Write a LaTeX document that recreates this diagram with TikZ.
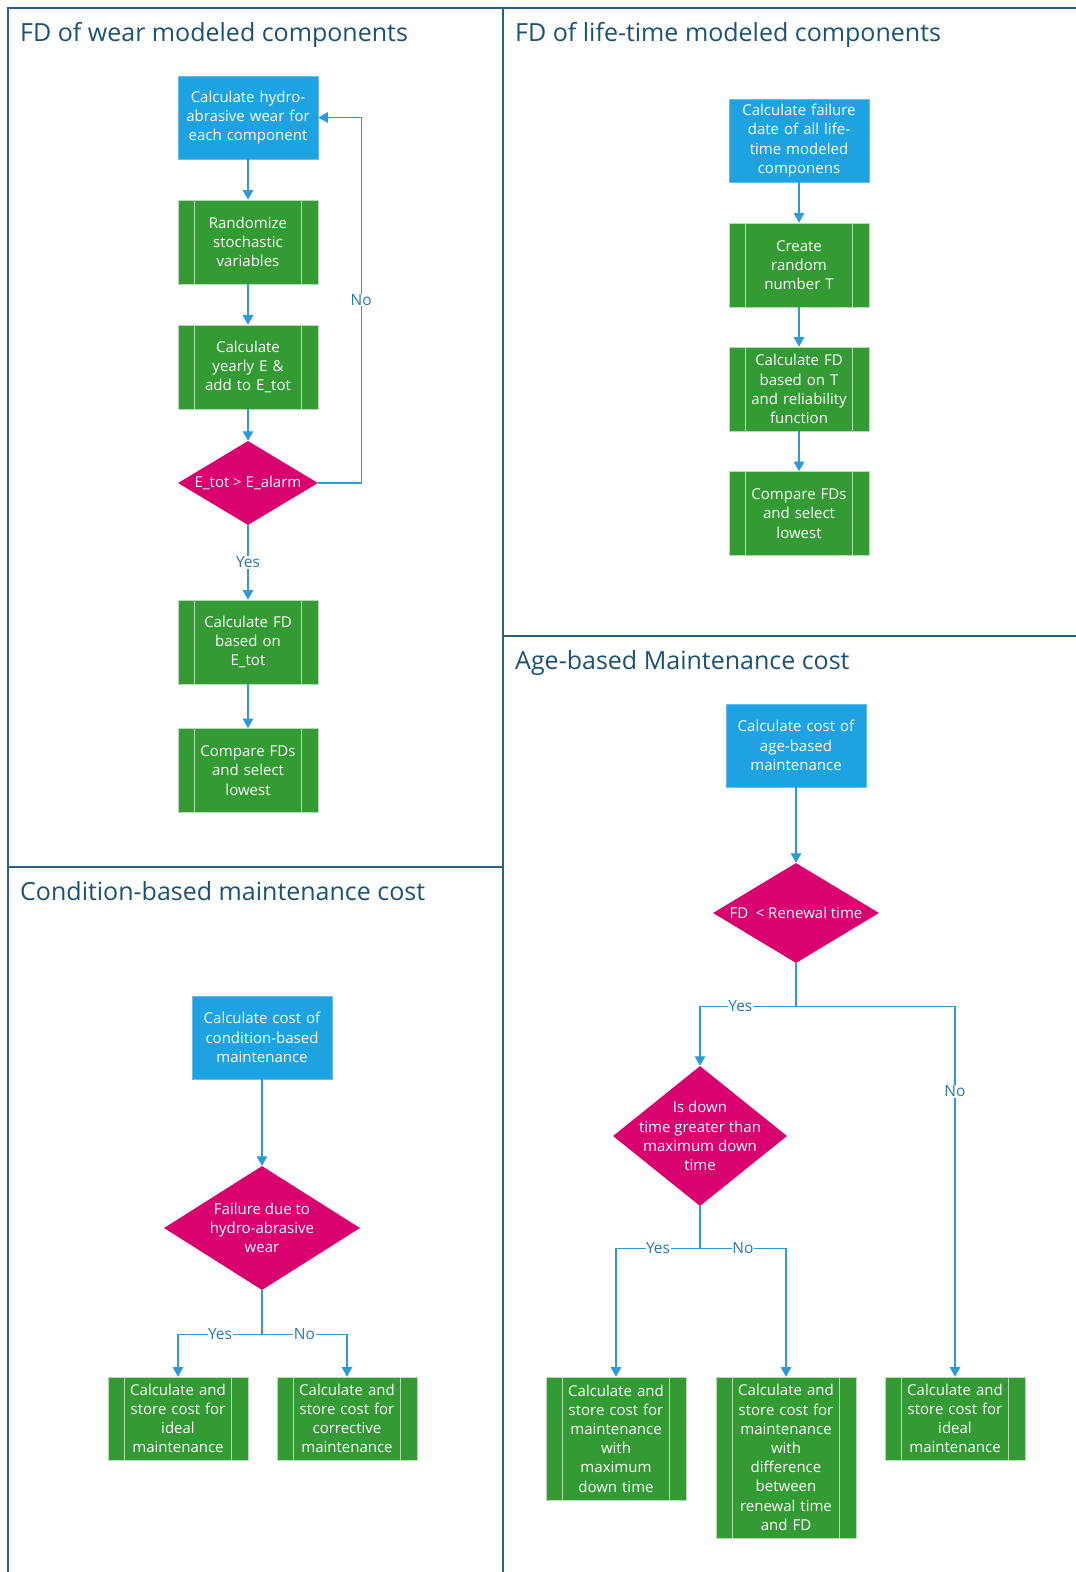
\documentclass[tikz,border=0pt]{standalone}
\usepackage{fontspec}
\setmainfont{Open Sans}
\usetikzlibrary{shapes.geometric,arrows.meta,calc}
\definecolor{cframe}{HTML}{2B6284}
\definecolor{ctitle}{HTML}{1B5273}
\definecolor{cblue}{HTML}{1FA2E1}
\definecolor{cgreen}{HTML}{349A34}
\definecolor{cgline}{HTML}{B5DDB5}
\definecolor{cmag}{HTML}{D9006F}
\definecolor{cline}{HTML}{2C9AD8}
\definecolor{clabel}{HTML}{2A78B2}
\newcommand\boxfnt{\fontsize{15pt}{19.2pt}\selectfont}
\newcommand\titlefnt{\fontsize{25pt}{30pt}\selectfont}
\tikzset{
  frame/.style={draw=cframe, line width=1.6pt},
  paneltitle/.style={anchor=base west, inner sep=0pt, text=ctitle, font=\titlefnt},
  blk/.style={rectangle, fill=cblue, draw=cblue!70!white, line width=0.6pt, text=white,
    minimum width=140pt, minimum height=83pt, inner sep=0pt, text width=136pt,
    align=center, font=\boxfnt},
  proc/.style={rectangle, fill=cgreen, draw=cgline, line width=0.7pt, text=white,
    minimum width=140pt, minimum height=84pt, inner sep=0pt, text width=106pt,
    align=center, font=\boxfnt,
    path picture={
      \draw[cgline, line width=0.9pt]
        ([xshift=16.5pt]path picture bounding box.north west) --
        ([xshift=16.5pt]path picture bounding box.south west)
        ([xshift=-16.5pt]path picture bounding box.north east) --
        ([xshift=-16.5pt]path picture bounding box.south east);}},
  dia/.style={diamond, fill=cmag, draw=none, inner sep=0pt},
  dtext/.style={text=white, font=\boxfnt, align=center, inner sep=0pt},
  arr/.style={draw=cline, line width=1.1pt, -{Triangle[width=10.5pt,length=9.5pt]}},
  lbl/.style={fill=white, text=clabel, font=\fontsize{15.5pt}{18pt}\selectfont, inner sep=0.5pt},
}
\begin{document}
\begin{tikzpicture}[x=1pt,y=-1pt]
\useasboundingbox (0,0) rectangle (1076,1572);

% panel frames
\draw[frame] (8,1580) -- (8,8) -- (1084,8);
\draw[frame] (503,8) -- (503,1580);
\draw[frame] (8,867) -- (503,867);
\draw[frame] (503,636) -- (1084,636);

% panel titles
\node[paneltitle] (t1) at (20,41) {FD of wear modeled components};
\node[paneltitle] (t2) at (515,41) {FD of life-time modeled components};
\node[paneltitle] (t3) at (515,669) {Age-based Maintenance cost};
\node[paneltitle] (t4) at (20,900) {Condition-based maintenance cost};

% ---- FD of wear modeled components
\node[blk]  (w1) at (248,117.5) {Calculate hydro-\\abrasive wear for\\each component};
\node[proc] (w2) at (248,242) {Randomize\\stochastic\\variables};
\node[proc] (w3) at (248,367) {Calculate\\yearly E \&\\add to E\_tot};
\node[dia, minimum width=140pt, minimum height=84pt,
      label={[dtext]center:E\_tot > E\_alarm}] (w4) at (248,483) {};
\node[proc] (w5) at (248,642) {Calculate FD\\based on\\E\_tot};
\node[proc] (w6) at (248,770.5) {Compare FDs\\and select\\lowest};

\draw[arr] (w1) -- (w2);
\draw[arr] (w2) -- (w3);
\draw[arr] (w3) -- (w4);
\draw[arr] (w4) -- node[lbl]{Yes} (w5);
\draw[arr] (w5) -- (w6);
\draw[arr] (w4.east) -- ++(43,0) |- node[lbl,pos=0.25]{No} (w1.east);

% ---- FD of life-time modeled components
\node[blk]  (l1) at (799,140.5) {Calculate failure\\date of all life-\\time modeled\\componens};
\node[proc] (l2) at (799,265) {Create\\random\\number T};
\node[proc] (l3) at (799,389) {Calculate FD\\based on T\\and reliability\\function};
\node[proc] (l4) at (799,513.5) {Compare FDs\\and select\\lowest};

\draw[arr] (l1) -- (l2);
\draw[arr] (l2) -- (l3);
\draw[arr] (l3) -- (l4);

% ---- Age-based maintenance cost
\node[blk]  (a1) at (796,745.5) {Calculate cost of\\age-based\\maintenance};
\node[dia, minimum width=166pt, minimum height=100pt,
      label={[dtext]center:FD\enspace< Renewal time}] (a2) at (796,913) {};
\node[dia, minimum width=174pt, minimum height=140pt,
      label={[dtext]center:{Is down\\time greater than\\maximum down\\time}}] (a3) at (700,1136) {};
\node[proc, minimum height=123pt] (a4) at (616,1438.5)
  {Calculate and\\store cost for\\maintenance\\with\\maximum\\down time};
\node[proc, minimum height=161pt] (a5) at (786,1457.5)
  {Calculate and\\store cost for\\maintenance\\with\\difference\\between\\renewal time\\and FD};
\node[proc, minimum height=83pt] (a6) at (955,1418.5)
  {Calculate and\\store cost for\\ideal\\maintenance};

\draw[arr] (a1) -- (a2);
\draw[draw=cline, line width=1.1pt] (a2.south) -- ++(0,43) coordinate (aj1);
\draw[arr] (aj1) -| node[lbl,pos=0.29]{Yes} (a3.north);
\draw[arr] (aj1) -| node[lbl,pos=0.615]{No} (a6.north);
\draw[draw=cline, line width=1.1pt] (a3.south) -- ++(0,42) coordinate (aj2);
\draw[arr] (aj2) -| node[lbl,pos=0.25]{Yes} (a4.north);
\draw[arr] (aj2) -| node[lbl,pos=0.25]{No} (a5.north);

% ---- Condition-based maintenance cost
\node[blk]  (c1) at (262,1037.5) {Calculate cost of\\condition-based\\maintenance};
\node[dia, minimum width=196pt, minimum height=124pt,
      label={[dtext]center:{Failure due to\\hydro-abrasive\\wear}}] (c2) at (262,1228) {};
\node[proc, minimum height=83pt] (c3) at (178,1418.5)
  {Calculate and\\store cost for\\ideal\\maintenance};
\node[proc, minimum height=83pt] (c4) at (347,1418.5)
  {Calculate and\\store cost for\\corrective\\maintenance};

\draw[arr] (c1) -- (c2);
\draw[draw=cline, line width=1.1pt] (c2.south) -- ++(0,44) coordinate (cj);
\draw[arr] (cj) -| node[lbl,pos=0.25]{Yes} (c3.north);
\draw[arr] (cj) -| node[lbl,pos=0.25]{No} (c4.north);
\end{tikzpicture}
\end{document}
